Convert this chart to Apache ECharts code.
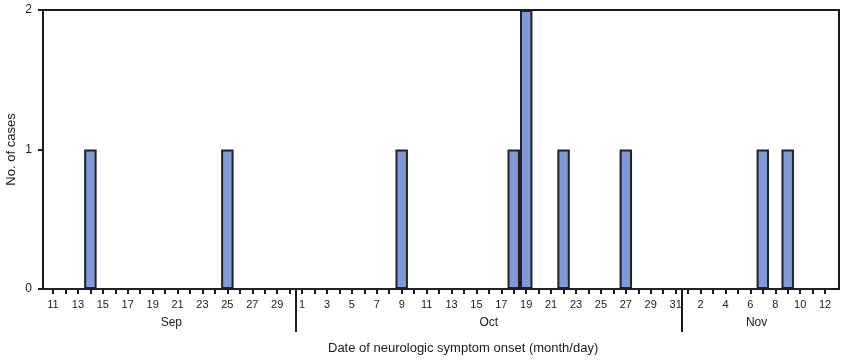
<!DOCTYPE html>
<html>
<head>
<meta charset="utf-8">
<script src="https://cdn.jsdelivr.net/npm/echarts@6/dist/echarts.min.js"></script>
<style>html,body{margin:0;padding:0;background:#fff;}#c{width:847px;height:364px;}</style>
</head>
<body>
<div id="c"></div>
<script>
// Dates (month/day), Sep 11 – Nov 12
const dates = [
  '9/11','9/12','9/13','9/14','9/15','9/16','9/17','9/18','9/19','9/20',
  '9/21','9/22','9/23','9/24','9/25','9/26','9/27','9/28','9/29','9/30',
  '10/1','10/2','10/3','10/4','10/5','10/6','10/7','10/8','10/9','10/10',
  '10/11','10/12','10/13','10/14','10/15','10/16','10/17','10/18','10/19','10/20',
  '10/21','10/22','10/23','10/24','10/25','10/26','10/27','10/28','10/29','10/30','10/31',
  '11/1','11/2','11/3','11/4','11/5','11/6','11/7','11/8','11/9','11/10','11/11','11/12'
];
// No. of cases per day
const cases = [
  0,0,0,1,0,0,0,0,0,0, 0,0,0,0,1,0,0,0,0,0,
  0,0,0,0,0,0,0,0,1,0, 0,0,0,0,0,0,0,1,2,0, 0,1,0,0,0,0,1,0,0,0, 0,
  0,0,0,0,0,0,1,0,1,0,0,0
];
const monthNames = {'9':'Sep','10':'Oct','11':'Nov'};
const yTitle = 'No. of cases';
const xTitle = 'Date of neurologic symptom onset (month/day)';

// month boundaries and centers (in category index units)
const monthKeys = [];
const monthFirst = [];
const monthLast = [];
dates.forEach((d, i) => {
  const m = d.split('/')[0];
  if (monthKeys[monthKeys.length - 1] !== m) { monthKeys.push(m); monthFirst.push(i); monthLast.push(i); }
  else monthLast[monthLast.length - 1] = i;
});
const monthBounds = monthFirst.slice(1).map(i => i - 0.5);
const monthCenters = monthFirst.map((f, k) => (f + monthLast[k]) / 2);
function monthAt(v) {
  for (let k = 0; k < monthFirst.length; k++) {
    if (v >= monthFirst[k] - 0.5 && v <= monthLast[k] + 0.5) return monthNames[monthKeys[k]];
  }
  return '';
}

const FONT = 'Liberation Sans';
const INK = '#1a1a1a';
const chart = echarts.init(document.getElementById('c'), null, {renderer: 'canvas'});
chart.setOption({
  animation: false,
  backgroundColor: '#fff',
  title: {
    text: xTitle, left: 328, top: 342, padding: 0,
    textStyle: {fontSize: 13, fontWeight: 'normal', color: INK, fontFamily: FONT}
  },
  grid: [
    {left: 43, right: 8, top: 10, bottom: 75, show: true, borderColor: INK, borderWidth: 2,
     backgroundColor: 'transparent', containLabel: false, outerBoundsMode: 'none'},
    {left: 46.8, right: 15.7, top: 10, bottom: 75, containLabel: false, outerBoundsMode: 'none'}
  ],
  xAxis: [
    {gridIndex: 0, type: 'value', min: 0, max: 1, show: false},
    {
      gridIndex: 1, type: 'category', data: dates, boundaryGap: true, position: 'bottom',
      axisLine: {show: true, lineStyle: {color: INK, width: 2}},
      axisTick: {show: true, alignWithLabel: true, interval: 0, length: 5, lineStyle: {color: INK, width: 2}},
      axisLabel: {interval: 1, formatter: v => v.split('/')[1], fontSize: 11, margin: 10, color: INK, fontFamily: FONT},
      splitLine: {show: false}
    },
    {
      gridIndex: 1, type: 'value', min: -0.5, max: dates.length - 0.5, position: 'bottom',
      axisLine: {show: false}, splitLine: {show: false},
      axisTick: {show: true, customValues: monthBounds, length: 43, lineStyle: {color: INK, width: 2}},
      axisLabel: {customValues: monthCenters, formatter: v => monthAt(v), fontSize: 12, margin: 28, color: INK, fontFamily: FONT}
    }
  ],
  yAxis: [
    {
      gridIndex: 0, type: 'value', min: 0, max: 2, interval: 1,
      axisLine: {show: true, lineStyle: {color: INK, width: 2}},
      axisTick: {show: true, length: 5, lineStyle: {color: INK, width: 2}},
      splitLine: {show: false},
      axisLabel: {fontSize: 12, margin: 11, color: INK, fontFamily: FONT},
      name: yTitle, nameLocation: 'middle', nameGap: 25, nameMoveOverlap: false,
      nameTextStyle: {fontSize: 13, color: INK, fontFamily: FONT}
    },
    {gridIndex: 1, type: 'value', min: 0, max: 2, show: false}
  ],
  series: [{
    type: 'bar', xAxisIndex: 1, yAxisIndex: 1, data: cases,
    barCategoryGap: '0%',
    itemStyle: {color: '#7f9ad6', borderColor: '#222', borderWidth: 2}
  }]
});
</script>
</body>
</html>
